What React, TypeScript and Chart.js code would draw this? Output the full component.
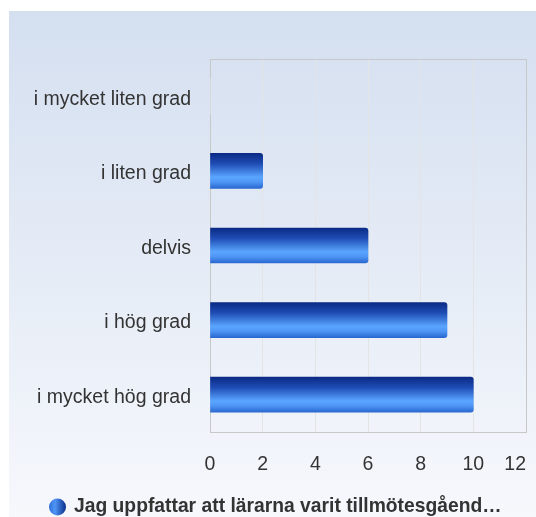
import React, { useEffect, useRef } from "react";
import { Chart, registerables } from "chart.js";

Chart.register(...registerables);

const categories = [
  "i mycket liten grad",
  "i liten grad",
  "delvis",
  "i hög grad",
  "i mycket hög grad",
];
const values = [0, 2, 6, 9, 10];
const seriesName = "Jag uppfattar att lärarna varit tillmötesgåend…";
const xMax = 12;
const xStep = 2;

const FONT = "'Liberation Sans', Arial, Helvetica, sans-serif";

const backgroundPlugin = {
  id: "panelBackground",
  beforeDraw(chart: any) {
    const { ctx, width, height } = chart;
    ctx.save();
    ctx.fillStyle = "#ffffff";
    ctx.fillRect(0, 0, width, height);
    const g = ctx.createLinearGradient(0, 11, 0, height);
    g.addColorStop(0, "#d4dff0");
    g.addColorStop(1, "#f6f8fc");
    ctx.fillStyle = g;
    ctx.fillRect(9, 11, width - 9, height - 11);
    ctx.restore();
  },
  beforeDatasetsDraw(chart: any) {
    const { ctx, chartArea } = chart;
    ctx.save();
    ctx.strokeStyle = "#c8c8c8";
    ctx.lineWidth = 1;
    ctx.beginPath();
    ctx.moveTo(chartArea.left, chartArea.top + 0.5);
    ctx.lineTo(chartArea.right, chartArea.top + 0.5);
    ctx.stroke();
    ctx.restore();
  },
  afterDraw(chart: any) {
    const { ctx } = chart;
    ctx.save();
    const cx = 57.5;
    const cy = 507;
    const r = 8.5;
    const g = ctx.createLinearGradient(cx - r, 0, cx + r, 0);
    g.addColorStop(0, "#2f6fd8");
    g.addColorStop(0.35, "#4f95f5");
    g.addColorStop(1, "#0b2f8c");
    ctx.fillStyle = g;
    ctx.beginPath();
    ctx.arc(cx, cy, r, 0, Math.PI * 2);
    ctx.fill();
    ctx.fillStyle = "#333333";
    ctx.font = `bold 19.3px ${FONT}`;
    ctx.textBaseline = "middle";
    ctx.textAlign = "left";
    ctx.fillText(seriesName, 74, cy);
    ctx.restore();
  },
};

function barGradient(context: any) {
  const chart = context.chart;
  const scales = chart.scales;
  if (!scales || !scales.y || context.dataIndex === undefined) return "#2a5fc8";
  if (context.raw === 0) return "rgba(255,255,255,0.9)";
  const yc = scales.y.getPixelForValue(context.dataIndex);
  if (!Number.isFinite(yc)) return "#2a5fc8";
  const half = 17.5;
  const g = chart.ctx.createLinearGradient(0, yc - half, 0, yc + half);
  g.addColorStop(0, "#0a2a85");
  g.addColorStop(0.3, "#1f4db5");
  g.addColorStop(0.68, "#5aa6ff");
  g.addColorStop(0.82, "#4e95f5");
  g.addColorStop(1, "#2a68d0");
  return g;
}

export default function App() {
  const canvasRef = useRef<HTMLCanvasElement | null>(null);

  useEffect(() => {
    const canvas = canvasRef.current;
    if (!canvas) return;
    const chart = new Chart(canvas, {
      type: "bar",
      data: {
        labels: categories,
        datasets: [
          {
            label: seriesName,
            data: values,
            backgroundColor: barGradient,
            borderWidth: 0,
            borderRadius: 3,
            borderSkipped: "start",
            barThickness: 35,
          },
        ],
      },
      options: {
        indexAxis: "y",
        responsive: false,
        animation: false,
        devicePixelRatio: 1,
        layout: {
          autoPadding: false,
          padding: { top: 59, right: 10, left: 0, bottom: 35 },
        },
        plugins: {
          legend: { display: false },
          tooltip: { enabled: false },
        },
        scales: {
          x: {
            min: 0,
            max: xMax,
            afterFit(scale: any) {
              scale.height = 50;
              scale.paddingRight = 0;
              scale.paddingLeft = 0;
            },
            ticks: {
              stepSize: xStep,
              padding: 21,
              color: "#333333",
              font: { family: FONT, size: 19.5 },
              callback: (v: any) =>
                Number(v) === xMax ? String(v) + "\u00a0\u00a0\u00a0\u00a0" : String(v),
              maxRotation: 0,
            },
            grid: {
              drawTicks: false,
              color: (c: any) =>
                c.tick && (c.tick.value === 0 || c.tick.value === xMax) ? "#c8c8c8" : "#e4e4e4",
            },
            border: { display: true, color: "#c8c8c8" },
          },
          y: {
            afterFit(scale: any) {
              scale.width = 210;
            },
            ticks: {
              padding: 19,
              labelOffset: 3,
              color: "#333333",
              font: { family: FONT, size: 19.5 },
            },
            grid: { display: false, drawTicks: false },
            border: { display: true, color: "#c8c8c8" },
          },
        },
      },
      plugins: [backgroundPlugin],
    });
    return () => chart.destroy();
  }, []);

  return (
    <div style={{ position: "fixed", left: 0, top: 0, width: 536, height: 517 }}>
      <canvas
        ref={canvasRef}
        width={536}
        height={517}
        style={{ display: "block", width: 536, height: 517 }}
      />
    </div>
  );
}
